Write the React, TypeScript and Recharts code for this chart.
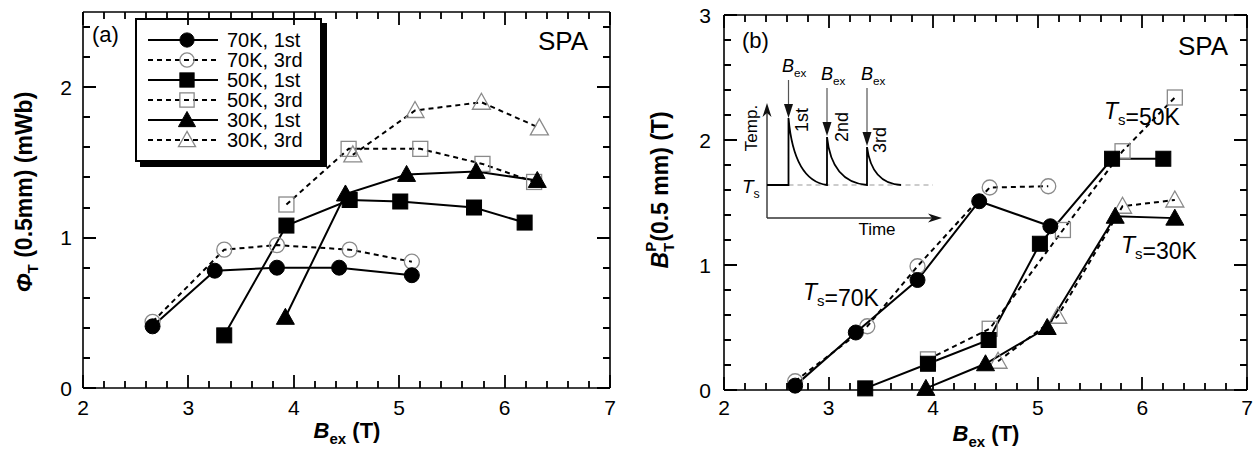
import React from 'react';
import { LineChart, Line, XAxis, YAxis, Legend } from 'recharts';

const FONT = '"Liberation Sans", Arial, Helvetica, sans-serif';

// (a) flux Phi_T (0.5 mm) in mWb vs B_ex in T, pairs [B_ex, value]
const a70First = [[2.66, 0.41], [3.25, 0.78], [3.84, 0.8], [4.43, 0.8], [5.12, 0.75]];
const a70Third = [[2.66, 0.44], [3.34, 0.92], [3.84, 0.95], [4.53, 0.92], [5.12, 0.84]];
const a50First = [[3.34, 0.35], [3.93, 1.08], [4.53, 1.25], [5.01, 1.24], [5.71, 1.2], [6.19, 1.1]];
const a50Third = [[3.93, 1.22], [4.52, 1.59], [5.2, 1.59], [5.79, 1.49], [6.28, 1.37]];
const a30First = [[3.92, 0.47], [4.49, 1.29], [5.07, 1.42], [5.73, 1.44], [6.31, 1.38]];
const a30Third = [[4.56, 1.55], [5.15, 1.845], [5.78, 1.9], [6.33, 1.73]];

// (b) trapped field B_T^P (0.5 mm) in T vs B_ex in T
const b70First = [[2.68, 0.035], [3.26, 0.46], [3.85, 0.88], [4.44, 1.51], [5.12, 1.31]];
const b70Third = [[2.68, 0.07], [3.37, 0.51], [3.85, 0.99], [4.54, 1.62], [5.1, 1.63]];
const b50First = [[3.35, 0.013], [3.95, 0.21], [4.53, 0.4], [5.02, 1.17], [5.71, 1.85], [6.2, 1.85]];
const b50Third = [[3.95, 0.245], [4.54, 0.49], [5.24, 1.28], [5.81, 1.91], [6.31, 2.34]];
const b30First = [[3.93, 0.013], [4.5, 0.21], [5.09, 0.5], [5.74, 1.39], [6.31, 1.375]];
const b30Third = [[4.62, 0.23], [5.19, 0.59], [5.81, 1.47], [6.31, 1.52]];

const legendNames = ['70K, 1st', '70K, 3rd', '50K, 1st', '50K, 3rd', '30K, 1st', '30K, 3rd'];

type Shape = 'circle' | 'square' | 'triangle';

const styles: { shape: Shape; open: boolean }[] = [
  { shape: 'circle', open: false },
  { shape: 'circle', open: true },
  { shape: 'square', open: false },
  { shape: 'square', open: true },
  { shape: 'triangle', open: false },
  { shape: 'triangle', open: true },
];

// plot boxes on the page (left, right, top, bottom) and value ranges
const boxA = { l: 83, r: 610, t: 12, b: 388, yMax: 2.5, yTop: 2.4 };
const boxB = { l: 724, r: 1247, t: 15, b: 390, yMax: 3, yTop: 3 };

const toPts = (a: number[][]) => a.map(([x, y]) => ({ x, y }));

// tick values every 0.2 between lo and hi
const stepTicks = (lo: number, hi: number) => {
  const n = Math.round((hi - lo) / 0.2);
  const arr: number[] = [];
  for (let i = 0; i <= n; i++) arr.push(Math.round((lo + i * 0.2) * 100) / 100);
  return arr;
};
const isMajor = (v: number) => Math.abs(v - Math.round(v)) < 1e-6;

function Marker({ cx, cy, shape, open, s = 1 }: { cx: number; cy: number; shape: Shape; open: boolean; s?: number }) {
  const fill = open ? 'none' : '#000';
  const stroke = open ? '#8a8a8a' : '#000';
  const sw = open ? 1.3 : 1;
  if (shape === 'circle') return <circle cx={cx} cy={cy} r={7.5 * s} fill={fill} stroke={stroke} strokeWidth={sw} />;
  if (shape === 'square') {
    const h = 7.5 * s;
    return <rect x={cx - h} y={cy - h} width={2 * h} height={2 * h} fill={fill} stroke={stroke} strokeWidth={sw} />;
  }
  const w = 9 * s;
  return (
    <polygon
      points={`${cx},${cy - 9 * s} ${cx - w},${cy + 7 * s} ${cx + w},${cy + 7 * s}`}
      fill={fill}
      stroke={stroke}
      strokeWidth={sw}
    />
  );
}

// tick labels only (marks are drawn in the overlay)
const mkLabel = (side: 'bottom' | 'left', gap = 11, down = 27) => (p: any) => {
  const x = Number(p.x);
  const y = Number(p.y);
  const v = Number(p.payload.value);
  if (!isMajor(v)) return <g />;
  return side === 'bottom'
    ? <text x={x} y={y + down} textAnchor="middle" fontSize={21} fontFamily={FONT} fill="#000">{v}</text>
    : <text x={x - gap} y={y + 7.5} textAnchor="end" fontSize={21} fontFamily={FONT} fill="#000">{v}</text>;
};

function LegendBox() {
  return (
    <div style={{ width: 183, height: 140, border: '2px solid #000', background: '#fff', boxShadow: '5px 5px 0 #000' }}>
      <svg width={183} height={140}>
        {legendNames.map((name, i) => {
          const y = 20 + i * 20;
          return (
            <g key={name}>
              <line x1={11} x2={81} y1={y} y2={y} stroke="#000" strokeWidth={2} strokeDasharray={styles[i].open ? '5 4' : undefined} />
              <Marker cx={50} cy={y} shape={styles[i].shape} open={styles[i].open} s={0.95} />
              <text x={90} y={y + 7} fontSize={20} fontFamily={FONT} fill="#000">{name}</text>
            </g>
          );
        })}
      </svg>
    </div>
  );
}

function renderSeries(list: number[][][]) {
  const order = [1, 3, 5, 0, 2, 4];
  return order.map((i) => {
    const st = styles[i];
    return (
      <Line
        key={i}
        data={toPts(list[i])}
        dataKey="y"
        xAxisId="b"
        yAxisId="l"
        type="linear"
        stroke="#000"
        strokeWidth={2}
        strokeDasharray={st.open ? '5 4' : undefined}
        dot={(p: any) => <Marker key={p.index} cx={p.cx} cy={p.cy} shape={st.shape} open={st.open} />}
        activeDot={false}
        isAnimationActive={false}
      />
    );
  });
}

const axisLine = { stroke: '#000', strokeWidth: 1.6 };

function Panel({ width, margin, box, series, gap, down, legend }: any) {
  const xt = stepTicks(2, 7);
  const yt = stepTicks(0, box.yTop);
  return (
    <LineChart width={width} height={453} margin={margin} style={{ fontFamily: FONT }}>
      <XAxis xAxisId="b" dataKey="x" type="number" domain={[2, 7]} ticks={xt} interval={0} height={30}
        axisLine={axisLine} tickLine={false} tickSize={0} tickMargin={0} tick={mkLabel('bottom', 11, down)} />
      <XAxis xAxisId="t" orientation="top" dataKey="x" type="number" domain={[2, 7]} ticks={xt} interval={0} height={1}
        allowDataOverflow axisLine={axisLine} tickLine={false} tick={false} />
      <YAxis yAxisId="l" type="number" domain={[0, box.yMax]} ticks={yt} interval={0} width={margin.yw}
        axisLine={axisLine} tickLine={false} tickSize={0} tickMargin={0} tick={mkLabel('left', gap)} />
      <YAxis yAxisId="r" orientation="right" type="number" domain={[0, box.yMax]} ticks={yt} interval={0} width={1}
        allowDataOverflow axisLine={axisLine} tickLine={false} tick={false} />
      {renderSeries(series)}
      {legend && (
        <Legend layout="vertical" align="center" verticalAlign="middle" content={() => <LegendBox />}
          wrapperStyle={{ position: 'absolute', left: 135, top: 18, width: 'auto', height: 'auto' }} />
      )}
    </LineChart>
  );
}

// inward tick marks on all four sides of a plot box, one path per box
function tickPath(box: any) {
  const xt = stepTicks(2, 7);
  const yt = stepTicks(0, box.yTop);
  const sx = (v: number) => box.l + ((v - 2) / 5) * (box.r - box.l);
  const sy = (v: number) => box.b - (v / box.yMax) * (box.b - box.t);
  let d = '';
  for (const v of xt) {
    const len = isMajor(v) ? 13 : 7;
    const x = Math.round(sx(v));
    d += `M${x} ${box.b}L${x} ${box.b - len}M${x} ${box.t}L${x} ${box.t + len}`;
  }
  for (const v of yt) {
    const len = isMajor(v) ? 13 : 7;
    const y = Math.round(sy(v));
    d += `M${box.l} ${y}L${box.l + len} ${y}M${box.r} ${y}L${box.r - len} ${y}`;
  }
  return d;
}

function Sub({ main, sub, size }: any) {
  return (
    <>
      <tspan fontStyle="italic">{main}</tspan>
      <tspan fontSize={size * 0.65} dy={size * 0.28}>{sub}</tspan>
      <tspan dy={-size * 0.28}>{''}</tspan>
    </>
  );
}

function DownArrow({ x, y1, tip }: { x: number; y1: number; tip: number }) {
  return (
    <g>
      <line x1={x} x2={x} y1={y1} y2={tip - 10} stroke="#555" strokeWidth={1.2} />
      <polygon points={`${x},${tip} ${x - 4.5},${tip - 14} ${x + 4.5},${tip - 14}`} fill="#111" />
    </g>
  );
}

function Overlay() {
  const t = { fontFamily: FONT, fill: '#000' } as const;
  return (
    <svg width={1254} height={453} style={{ position: 'absolute', left: 0, top: 0, pointerEvents: 'none' }}>
      <path d={tickPath(boxA)} fill="none" stroke="#000" strokeWidth={1.8} />
      <path d={tickPath(boxB)} fill="none" stroke="#000" strokeWidth={1.8} />

      {/* axis titles */}
      <text transform="translate(32,192) rotate(-90)" textAnchor="middle" fontSize={23} fontWeight="bold" {...t}>
        <tspan fontStyle="italic">Φ</tspan>
        <tspan fontSize={15} dy={6}>T</tspan>
        <tspan dy={-6}> (0.5mm) (mWb)</tspan>
      </text>
      <text transform="translate(668,190) rotate(-90)" textAnchor="middle" fontSize={23} fontWeight="bold" {...t}>
        <tspan fontStyle="italic">B</tspan>
        <tspan fontSize={15} dy={6}>T</tspan>
        <tspan fontSize={15} dx={-9} dy={-18}>P</tspan>
        <tspan dy={12}>(0.5 mm) (T)</tspan>
      </text>
      <text x={347} y={438} textAnchor="middle" fontSize={22} fontWeight="bold" {...t}>
        <tspan fontStyle="italic">B</tspan>
        <tspan fontSize={15} dy={6}>ex</tspan>
        <tspan dy={-6}> (T)</tspan>
      </text>
      <text x={986} y={441} textAnchor="middle" fontSize={22} fontWeight="bold" {...t}>
        <tspan fontStyle="italic">B</tspan>
        <tspan fontSize={15} dy={6}>ex</tspan>
        <tspan dy={-6}> (T)</tspan>
      </text>

      {/* panel tags */}
      <text x={92} y={42} fontSize={22} {...t}>(a)</text>
      <text x={742} y={48} fontSize={22} {...t}>(b)</text>
      <text x={588} y={50} textAnchor="end" fontSize={26} {...t}>SPA</text>
      <text x={1228} y={55} textAnchor="end" fontSize={26} {...t}>SPA</text>

      {/* temperature labels */}
      <text x={803} y={300} fontSize={23} {...t}><Sub main="T" sub="s" size={23} />=70K</text>
      <text x={1104} y={119} fontSize={23} {...t}><Sub main="T" sub="s" size={23} />=50K</text>
      <text x={1121} y={253} fontSize={23} {...t}><Sub main="T" sub="s" size={23} />=30K</text>

      {/* inset schematic */}
      <line x1={767} y1={218} x2={767} y2={108} stroke="#333" strokeWidth={1.4} />
      <polygon points="767,103 762.5,117 767,113 771.5,117" fill="#111" />
      <line x1={767} y1={218} x2={936} y2={218} stroke="#333" strokeWidth={1.4} />
      <polygon points="942,218 928,213.5 932,218 928,222.5" fill="#111" />
      <line x1={788.5} y1={185} x2={933} y2={185} stroke="#999" strokeWidth={1.2} strokeDasharray="5 4" />
      <path
        d="M767,185 L788.5,185 L788.5,118 C792,158 804,182 827,185 L827,137 C830,166 842,183 867,185 L867,147 C870,170 881,184 901,185"
        fill="none" stroke="#000" strokeWidth={1.8}
      />
      <DownArrow x={788.5} y1={80} tip={118} />
      <DownArrow x={827} y1={88} tip={136} />
      <DownArrow x={867} y1={88} tip={146} />
      <text x={782} y={72} fontSize={18} {...t}><Sub main="B" sub="ex" size={18} /></text>
      <text x={821} y={80} fontSize={18} {...t}><Sub main="B" sub="ex" size={18} /></text>
      <text x={861} y={80} fontSize={18} {...t}><Sub main="B" sub="ex" size={18} /></text>
      <text transform="translate(808,120) rotate(-90)" textAnchor="middle" fontSize={18} {...t}>1st</text>
      <text transform="translate(848,127) rotate(-90)" textAnchor="middle" fontSize={18} {...t}>2nd</text>
      <text transform="translate(886,140) rotate(-90)" textAnchor="middle" fontSize={18} {...t}>3rd</text>
      <text transform="translate(757,128) rotate(-90)" textAnchor="middle" fontSize={17} {...t}>Temp.</text>
      <text x={742} y={193} fontSize={19} {...t}><Sub main="T" sub="s" size={19} /></text>
      <text x={877} y={235} textAnchor="middle" fontSize={17} {...t}>Time</text>
    </svg>
  );
}

export default function App() {
  const seriesA = [a70First, a70Third, a50First, a50Third, a30First, a30Third];
  const seriesB = [b70First, b70Third, b50First, b50Third, b30First, b30Third];
  return (
    <div style={{ position: 'absolute', left: 0, top: 0, width: 1254, height: 453, background: '#fff', fontFamily: FONT }}>
      <div style={{ position: 'absolute', left: 0, top: 0 }}>
        <Panel width={640} margin={{ top: boxA.t - 1, right: 640 - boxA.r - 1, bottom: 453 - boxA.b - 30, left: 0, yw: boxA.l }}
          box={boxA} series={seriesA} gap={11} down={27} legend />
      </div>
      <div style={{ position: 'absolute', left: 640, top: 0 }}>
        <Panel width={614} margin={{ top: boxB.t - 1, right: 1254 - boxB.r - 1, bottom: 453 - boxB.b - 30, left: 0, yw: boxB.l - 640 }}
          box={boxB} series={seriesB} gap={13} down={25} />
      </div>
      <Overlay />
    </div>
  );
}
